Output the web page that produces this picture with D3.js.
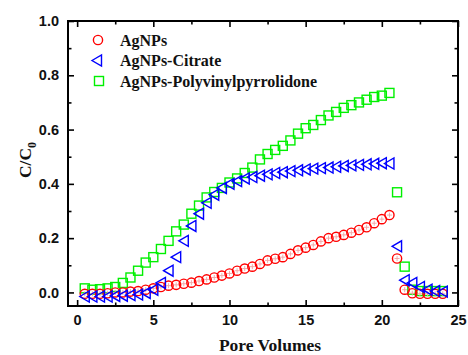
<!DOCTYPE html>
<html>
<head>
<meta charset="utf-8">
<script src="https://cdn.jsdelivr.net/npm/d3@7"></script>
<style>
	body { margin: 0; background: #fff; }
	svg { display: block; }
	.tick text { font-family: "Liberation Sans", Arial, sans-serif; font-weight: bold; font-size: 14.5px; fill: #111; }
	.tick line { stroke: #000; stroke-width: 1.6; }
</style>
</head>
<body>
<svg id="chart" width="468" height="355"></svg>
<script>
// pore volumes for the loading step, then the flush step
const pvLoad = [0.5, 1, 1.5, 2, 2.5, 3, 3.5, 4, 4.5, 5, 5.5, 6, 6.5, 7, 7.5, 8, 8.5, 9, 9.5, 10,
	10.5, 11, 11.5, 12, 12.5, 13, 13.5, 14, 14.5, 15, 15.5, 16, 16.5, 17, 17.5, 18, 18.5, 19, 19.5, 20, 20.5];
const pvFlush = [21, 21.5, 22, 22.5, 23, 23.5, 24];

const agnps = [-0.005, -0.005, -0.005, -0.003, 0, 0, 0.003, 0.005, 0.01, 0.015, 0.02, 0.025, 0.028, 0.032, 0.036, 0.042,
	0.048, 0.055, 0.062, 0.07, 0.08, 0.088, 0.095, 0.105, 0.118, 0.124, 0.13, 0.142, 0.155, 0.165, 0.175, 0.188,
	0.2, 0.205, 0.212, 0.22, 0.23, 0.24, 0.255, 0.27, 0.285,
	0.125, 0.01, -0.003, -0.005, -0.005, -0.005, -0.005];
const citrate = [-0.015, -0.015, -0.015, -0.015, -0.013, -0.012, -0.01, -0.008, -0.002, 0.01, 0.035, 0.08, 0.13, 0.19,
	0.245, 0.29, 0.33, 0.36, 0.385, 0.4, 0.41, 0.42, 0.425, 0.43, 0.435, 0.44, 0.443, 0.447, 0.45, 0.453, 0.456,
	0.458, 0.46, 0.463, 0.466, 0.468, 0.47, 0.472, 0.474, 0.476, 0.475,
	0.17, 0.045, 0.035, 0.02, 0.01, 0.005, 0.003];
const pvp = [0.015, 0.01, 0.012, 0.015, 0.02, 0.035, 0.055, 0.08, 0.11, 0.13, 0.16, 0.19, 0.225, 0.25, 0.29, 0.32,
	0.35, 0.37, 0.385, 0.405, 0.42, 0.44, 0.46, 0.49, 0.51, 0.525, 0.54, 0.56, 0.585, 0.605, 0.617, 0.635, 0.652,
	0.665, 0.68, 0.69, 0.7, 0.71, 0.72, 0.725, 0.735,
	0.369, 0.095, 0.01, 0.005, 0.005, 0.005, 0.005];

const xMajor = [0, 5, 10, 15, 20, 25];
const xMinor = [2.5, 7.5, 12.5, 17.5, 22.5];
const yMajor = [0, 0.2, 0.4, 0.6, 0.8, 1.0];
const yMinor = [0.1, 0.3, 0.5, 0.7, 0.9];

const seriesNames = ["AgNPs", "AgNPs-Citrate", "AgNPs-Polyvinylpyrrolidone"];

const margin = { left: 68, right: 10, top: 21, bottom: 49 };
const width = 468, height = 355;

const svg = d3.select("#chart");

const x = d3.scaleLinear().domain([-0.6, 25]).range([margin.left, width - margin.right]);
const y = d3.scaleLinear().domain([-0.05, 1.0]).range([height - margin.bottom, margin.top]);

const pv = pvLoad.concat(pvFlush);
const toPoints = vals => vals.map((v, i) => ({ pv: pv[i], c: v }));

const triangle = "M-5,0L4.5,-5.5L4.5,5.5Z";

// axes, ticks pointing inward on all four sides
function addAxis(axisFn, values, size, translate, labels) {
	const g = svg.append("g")
		.attr("transform", translate)
		.call(axisFn.tickValues(values).tickSize(size).tickPadding(labels ? 9 : 0)
			.tickFormat(labels ? labels : ""));
	g.select(".domain").remove();
	return g;
}

const bottomY = y.range()[0], topY = y.range()[1];
const leftX = x.range()[0], rightX = x.range()[1];

addAxis(d3.axisBottom(x), xMajor, -6, `translate(0,${bottomY})`, d3.format("d"));
addAxis(d3.axisBottom(x), xMinor, -3.5, `translate(0,${bottomY})`);
addAxis(d3.axisTop(x), xMajor, -6, `translate(0,${topY})`);
addAxis(d3.axisTop(x), xMinor, -3.5, `translate(0,${topY})`);
addAxis(d3.axisLeft(y), yMajor, -6, `translate(${leftX},0)`, d3.format(".1f"));
addAxis(d3.axisLeft(y), yMinor, -3.5, `translate(${leftX},0)`);
addAxis(d3.axisRight(y), yMajor, -6, `translate(${rightX},0)`);
addAxis(d3.axisRight(y), yMinor, -3.5, `translate(${rightX},0)`);

svg.append("rect")
	.attr("x", leftX)
	.attr("y", topY)
	.attr("width", rightX - leftX)
	.attr("height", bottomY - topY)
	.attr("fill", "none")
	.attr("stroke", "#000")
	.attr("stroke-width", 2);

// Data markers
const plot = svg.append("g").classed("markers", true);

plot.append("g").selectAll("rect")
	.data(toPoints(pvp))
	.enter()
	.append("rect")
	.attr("x", d => x(d.pv) - 4.5)
	.attr("y", d => y(d.c) - 4.5)
	.attr("width", 9)
	.attr("height", 9)
	.attr("fill", "none")
	.attr("stroke", "#00f000")
	.attr("stroke-width", 1.4);

const red = plot.append("g").selectAll("g")
	.data(toPoints(agnps))
	.enter()
	.append("g")
	.attr("transform", d => `translate(${x(d.pv)},${y(d.c)})`);

red.append("path")
	.attr("d", "M-2.5,0H2.5M0,-2.5V2.5")
	.attr("stroke", "#f0a0a0")
	.attr("stroke-width", 0.9);

red.append("circle")
	.attr("r", 4.6)
	.attr("fill", "none")
	.attr("stroke", "#ff0000")
	.attr("stroke-width", 1.4);

plot.append("g").selectAll("path")
	.data(toPoints(citrate))
	.enter()
	.append("path")
	.attr("d", triangle)
	.attr("transform", d => `translate(${x(d.pv)},${y(d.c)})`)
	.attr("fill", "none")
	.attr("stroke", "#0000ff")
	.attr("stroke-width", 1.4);

// Legend
const legend = svg.append("g").classed("legend", true);
const legendRows = [
	{ name: seriesNames[0], cy: 40 },
	{ name: seriesNames[1], cy: 60.5 },
	{ name: seriesNames[2], cy: 81 }
];

legend.append("circle").attr("cx", 98).attr("cy", legendRows[0].cy).attr("r", 4.6)
	.attr("fill", "none").attr("stroke", "#ff0000").attr("stroke-width", 1.4);
legend.append("path").attr("d", triangle).attr("transform", `translate(97,${legendRows[1].cy})`)
	.attr("fill", "none").attr("stroke", "#0000ff").attr("stroke-width", 1.4);
legend.append("rect").attr("x", 94.5).attr("y", legendRows[2].cy - 4.5).attr("width", 9).attr("height", 9)
	.attr("fill", "none").attr("stroke", "#00f000").attr("stroke-width", 1.4);

legend.selectAll("text")
	.data(legendRows)
	.enter()
	.append("text")
	.attr("x", 120)
	.attr("y", d => d.cy + 5.5)
	.style("font-family", "'Liberation Serif', 'Times New Roman', serif")
	.style("font-weight", "bold")
	.style("font-size", "16px")
	.attr("fill", "#111")
	.text(d => d.name);

// Axis titles
svg.append("text")
	.attr("x", (leftX + rightX) / 2 + 7)
	.attr("y", 351)
	.attr("text-anchor", "middle")
	.style("font-family", "'Liberation Serif', 'Times New Roman', serif")
	.style("font-weight", "bold")
	.style("font-size", "17.5px")
	.attr("fill", "#111")
	.text("Pore Volumes");

const yTitle = svg.append("text")
	.attr("transform", "translate(31,160) rotate(-90)")
	.attr("text-anchor", "middle")
	.style("font-family", "'Liberation Serif', 'Times New Roman', serif")
	.style("font-weight", "bold")
	.style("font-size", "17.5px")
	.attr("fill", "#111");
yTitle.append("tspan").text("C/C");
yTitle.append("tspan").attr("dy", 5).style("font-size", "12px").text("0");
</script>
</body>
</html>
